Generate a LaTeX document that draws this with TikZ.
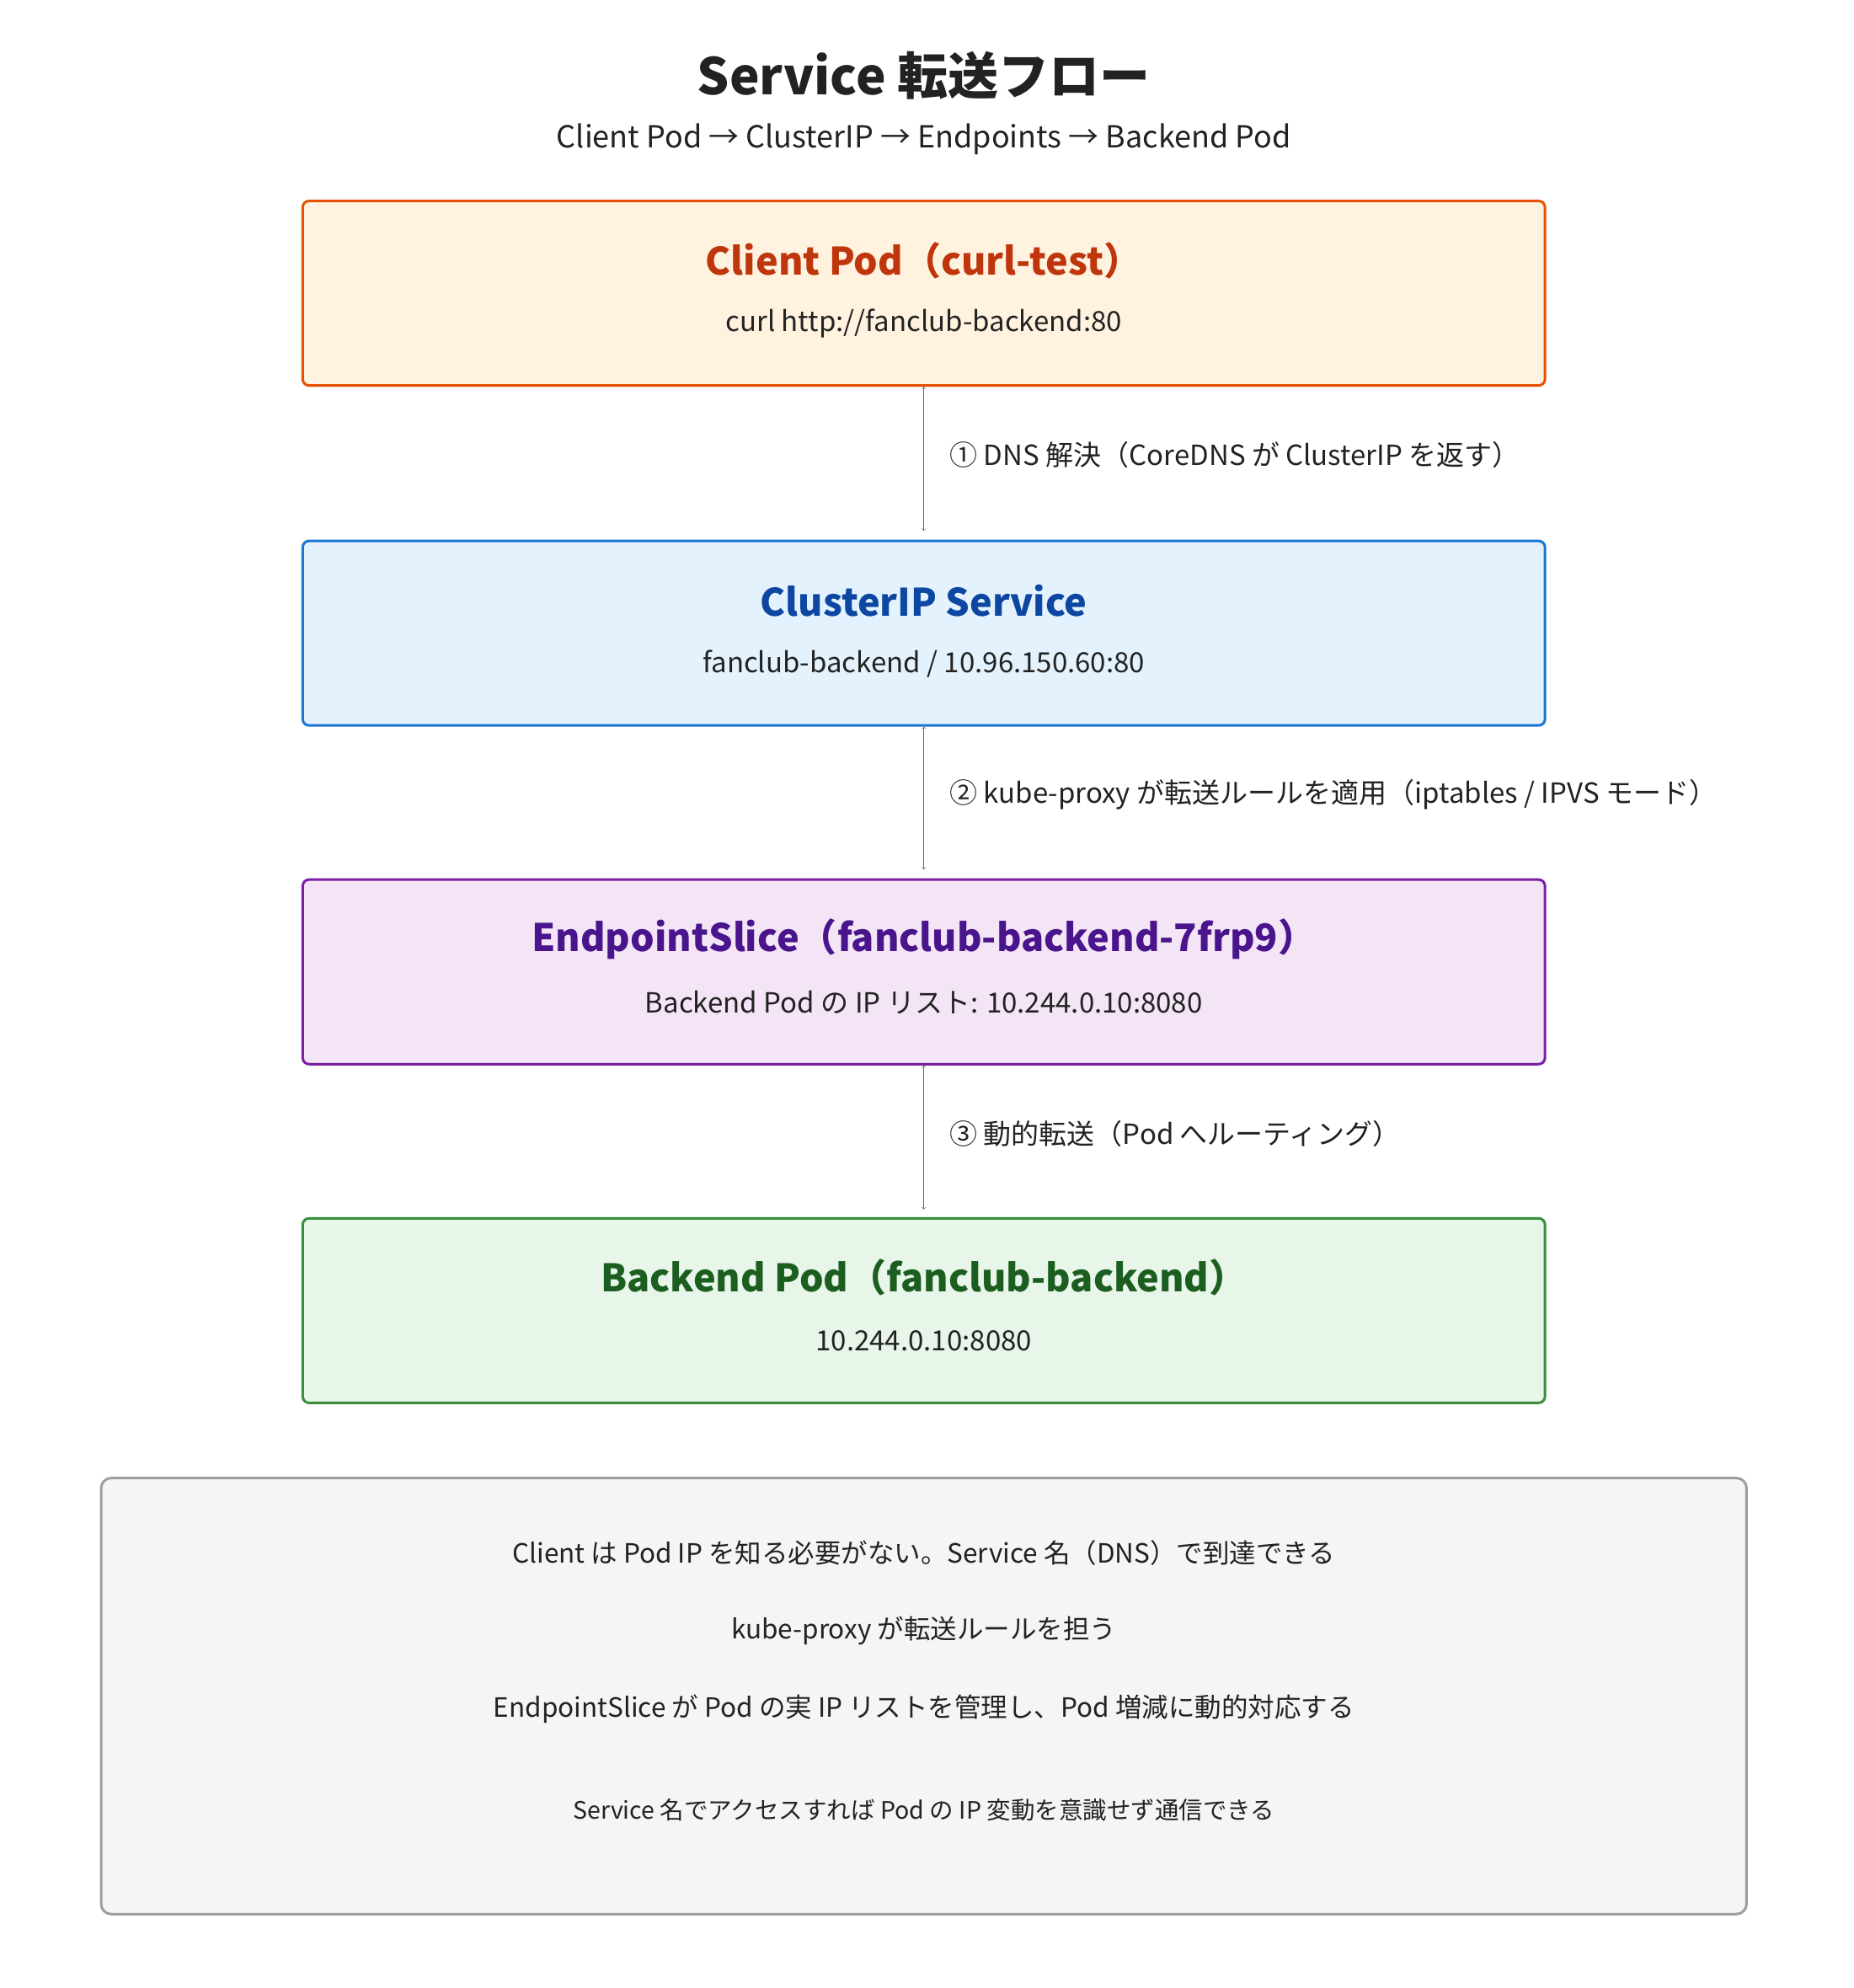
\documentclass[tikz,border=0pt]{standalone}
\usepackage{fontspec}
\setmainfont{Noto Sans CJK JP}
\usetikzlibrary{positioning}
\definecolor{cOrangeD}{HTML}{E65100}\definecolor{cOrangeF}{HTML}{FFF3E0}\definecolor{cOrangeT}{HTML}{BF360C}
\definecolor{cBlueD}{HTML}{1976D2}\definecolor{cBlueF}{HTML}{E3F2FD}\definecolor{cBlueT}{HTML}{0D47A1}
\definecolor{cPurpD}{HTML}{7B1FA2}\definecolor{cPurpF}{HTML}{F3E5F5}\definecolor{cPurpT}{HTML}{4A148C}
\definecolor{cGreenD}{HTML}{388E3C}\definecolor{cGreenF}{HTML}{E8F5E9}\definecolor{cGreenT}{HTML}{1B5E20}
\definecolor{cGrayD}{HTML}{9E9E9E}\definecolor{cGrayF}{HTML}{F5F5F5}\definecolor{cText}{HTML}{222222}
\tikzset{
  stage/.style={draw, line width=2pt, rounded corners=5pt, minimum width=983pt, minimum height=146pt},
  stagetitle/.style={font=\fontsize{30}{36}\selectfont\bfseries},
  stagesub/.style={font=\fontsize{22}{26}\selectfont, text=cText},
  hop/.style={font=\fontsize{22}{26}\selectfont, text=cText, anchor=west},
  note/.style={font=\fontsize{21}{26}\selectfont, text=cText}
}
\begin{document}
\begin{tikzpicture}[x=1pt,y=-1pt]
\useasboundingbox (0,0) rectangle (1467,1573);

\node[font=\fontsize{40}{48}\selectfont\bfseries, text=cText] (title) at (731,60) {Service 転送フロー};
\node[font=\fontsize{24}{28}\selectfont, text=cText] (subtitle) at (731,110) {Client Pod → ClusterIP → Endpoints → Backend Pod};

\node[stage, fill=cOrangeF, draw=cOrangeD] (client) at (731,232) {};
\node[stagetitle, text=cOrangeT] (client_t) at (731,206) {Client Pod（curl-test）};
\node[stagesub] (client_s) at (731,256) {curl http://fanclub-backend:80};

\node[stage, fill=cBlueF, draw=cBlueD] (svc) at (731,501) {};
\node[stagetitle, text=cBlueT] (svc_t) at (731,475) {ClusterIP Service};
\node[stagesub] (svc_s) at (731,525) {fanclub-backend / 10.96.150.60:80};

\node[stage, fill=cPurpF, draw=cPurpD] (eps) at (731,769) {};
\node[stagetitle, text=cPurpT] (eps_t) at (731,743) {EndpointSlice（fanclub-backend-7frp9）};
\node[stagesub] (eps_s) at (731,793) {Backend Pod の IP リスト: 10.244.0.10:8080};

\node[stage, fill=cGreenF, draw=cGreenD] (backend) at (731,1037) {};
\node[stagetitle, text=cGreenT] (backend_t) at (731,1011) {Backend Pod（fanclub-backend）};
\node[stagesub] (backend_s) at (731,1061) {10.244.0.10:8080};

\coordinate (svc_in) at (731,420);
\coordinate (eps_in) at (731,688);
\coordinate (backend_in) at (731,957);
\path[->, draw=gray!80!black] (client.south) edge (svc_in);
\path[->, draw=gray!80!black] (svc.south) edge (eps_in);
\path[->, draw=gray!80!black] (eps.south) edge (backend_in);
\node[hop] (hop1) at (748,360) {① DNS 解決（CoreDNS が ClusterIP を返す）};
\node[hop] (hop2) at (748,629) {② kube-proxy が転送ルールを適用（iptables / IPVS モード）};
\node[hop] (hop3) at (748,897) {③ 動的転送（Pod へルーティング）};

\node[draw=cGrayD, fill=cGrayF, line width=2pt, rounded corners=8pt, minimum width=1302pt, minimum height=345pt] (summary) at (731,1342) {};
\node[note] (note1) at (731,1229) {Client は Pod IP を知る必要がない。Service 名（DNS）で到達できる};
\node[note] (note2) at (731,1290) {kube-proxy が転送ルールを担う};
\node[note] (note3) at (731,1352) {EndpointSlice が Pod の実 IP リストを管理し、Pod 増減に動的対応する};
\node[note, font=\fontsize{19}{24}\selectfont] (note4) at (731,1432) {Service 名でアクセスすれば Pod の IP 変動を意識せず通信できる};

\end{tikzpicture}
\end{document}
